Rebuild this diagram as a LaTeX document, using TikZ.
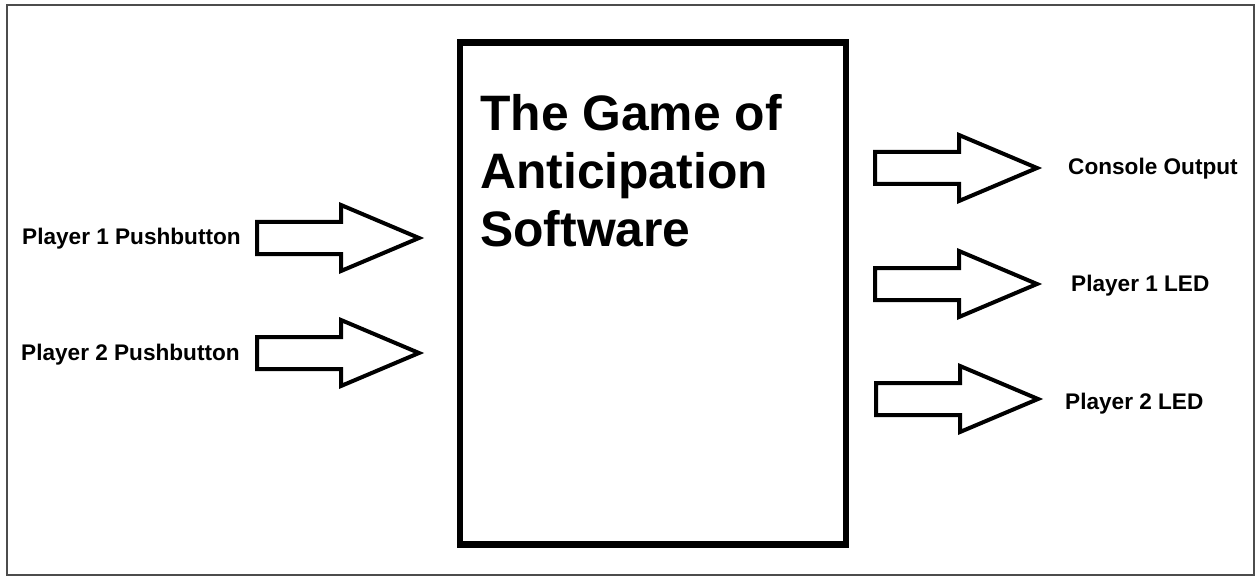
\documentclass[tikz,border=0pt]{standalone}
\usepackage{fontspec}
\setmainfont{Liberation Sans}
\begin{document}
\begin{tikzpicture}[x=1pt,y=-1pt,
  frame/.style={draw=black!70,line width=2},
  corebox/.style={draw=black,line width=6.5,inner sep=0pt,outer sep=0pt},
  arrowline/.style={draw=black,line width=4,fill=white,line join=miter},
  label/.style={anchor=base west,inner sep=0pt,font=\fontsize{22.6}{26}\selectfont\bfseries},
  titletext/.style={anchor=north west,inner sep=0pt,align=left,font=\fontsize{49.8}{58}\selectfont\bfseries},
  fatarrow/.pic={\path[arrowline] (0,-16) -- (84,-16) -- (84,-33) -- (162,0) -- (84,33) -- (84,16) -- (0,16) -- cycle;}]
\useasboundingbox (0,0) rectangle (1257,577);
% outer frame
\draw[frame] (7,5) rectangle (1254,575);
% central block
\node[corebox,minimum width=386,minimum height=502,anchor=north west] (core) at (460,42.5) {};
\node[titletext] (title) at (480,94) {The Game of\\Anticipation\\Software};
% inputs
\node[label] (in1) at (22,244) {Player 1 Pushbutton};
\node[label] (in2) at (21,360) {Player 2 Pushbutton};
\pic at (257,238) {fatarrow};
\pic at (257,353) {fatarrow};
% outputs
\pic at (875,168) {fatarrow};
\pic at (875,284) {fatarrow};
\pic at (876,399) {fatarrow};
\node[label] (out1) at (1068,175) {Console Output};
\node[label] (out2) at (1071,291) {Player 1 LED};
\node[label] (out3) at (1065,409) {Player 2 LED};
\end{tikzpicture}
\end{document}
